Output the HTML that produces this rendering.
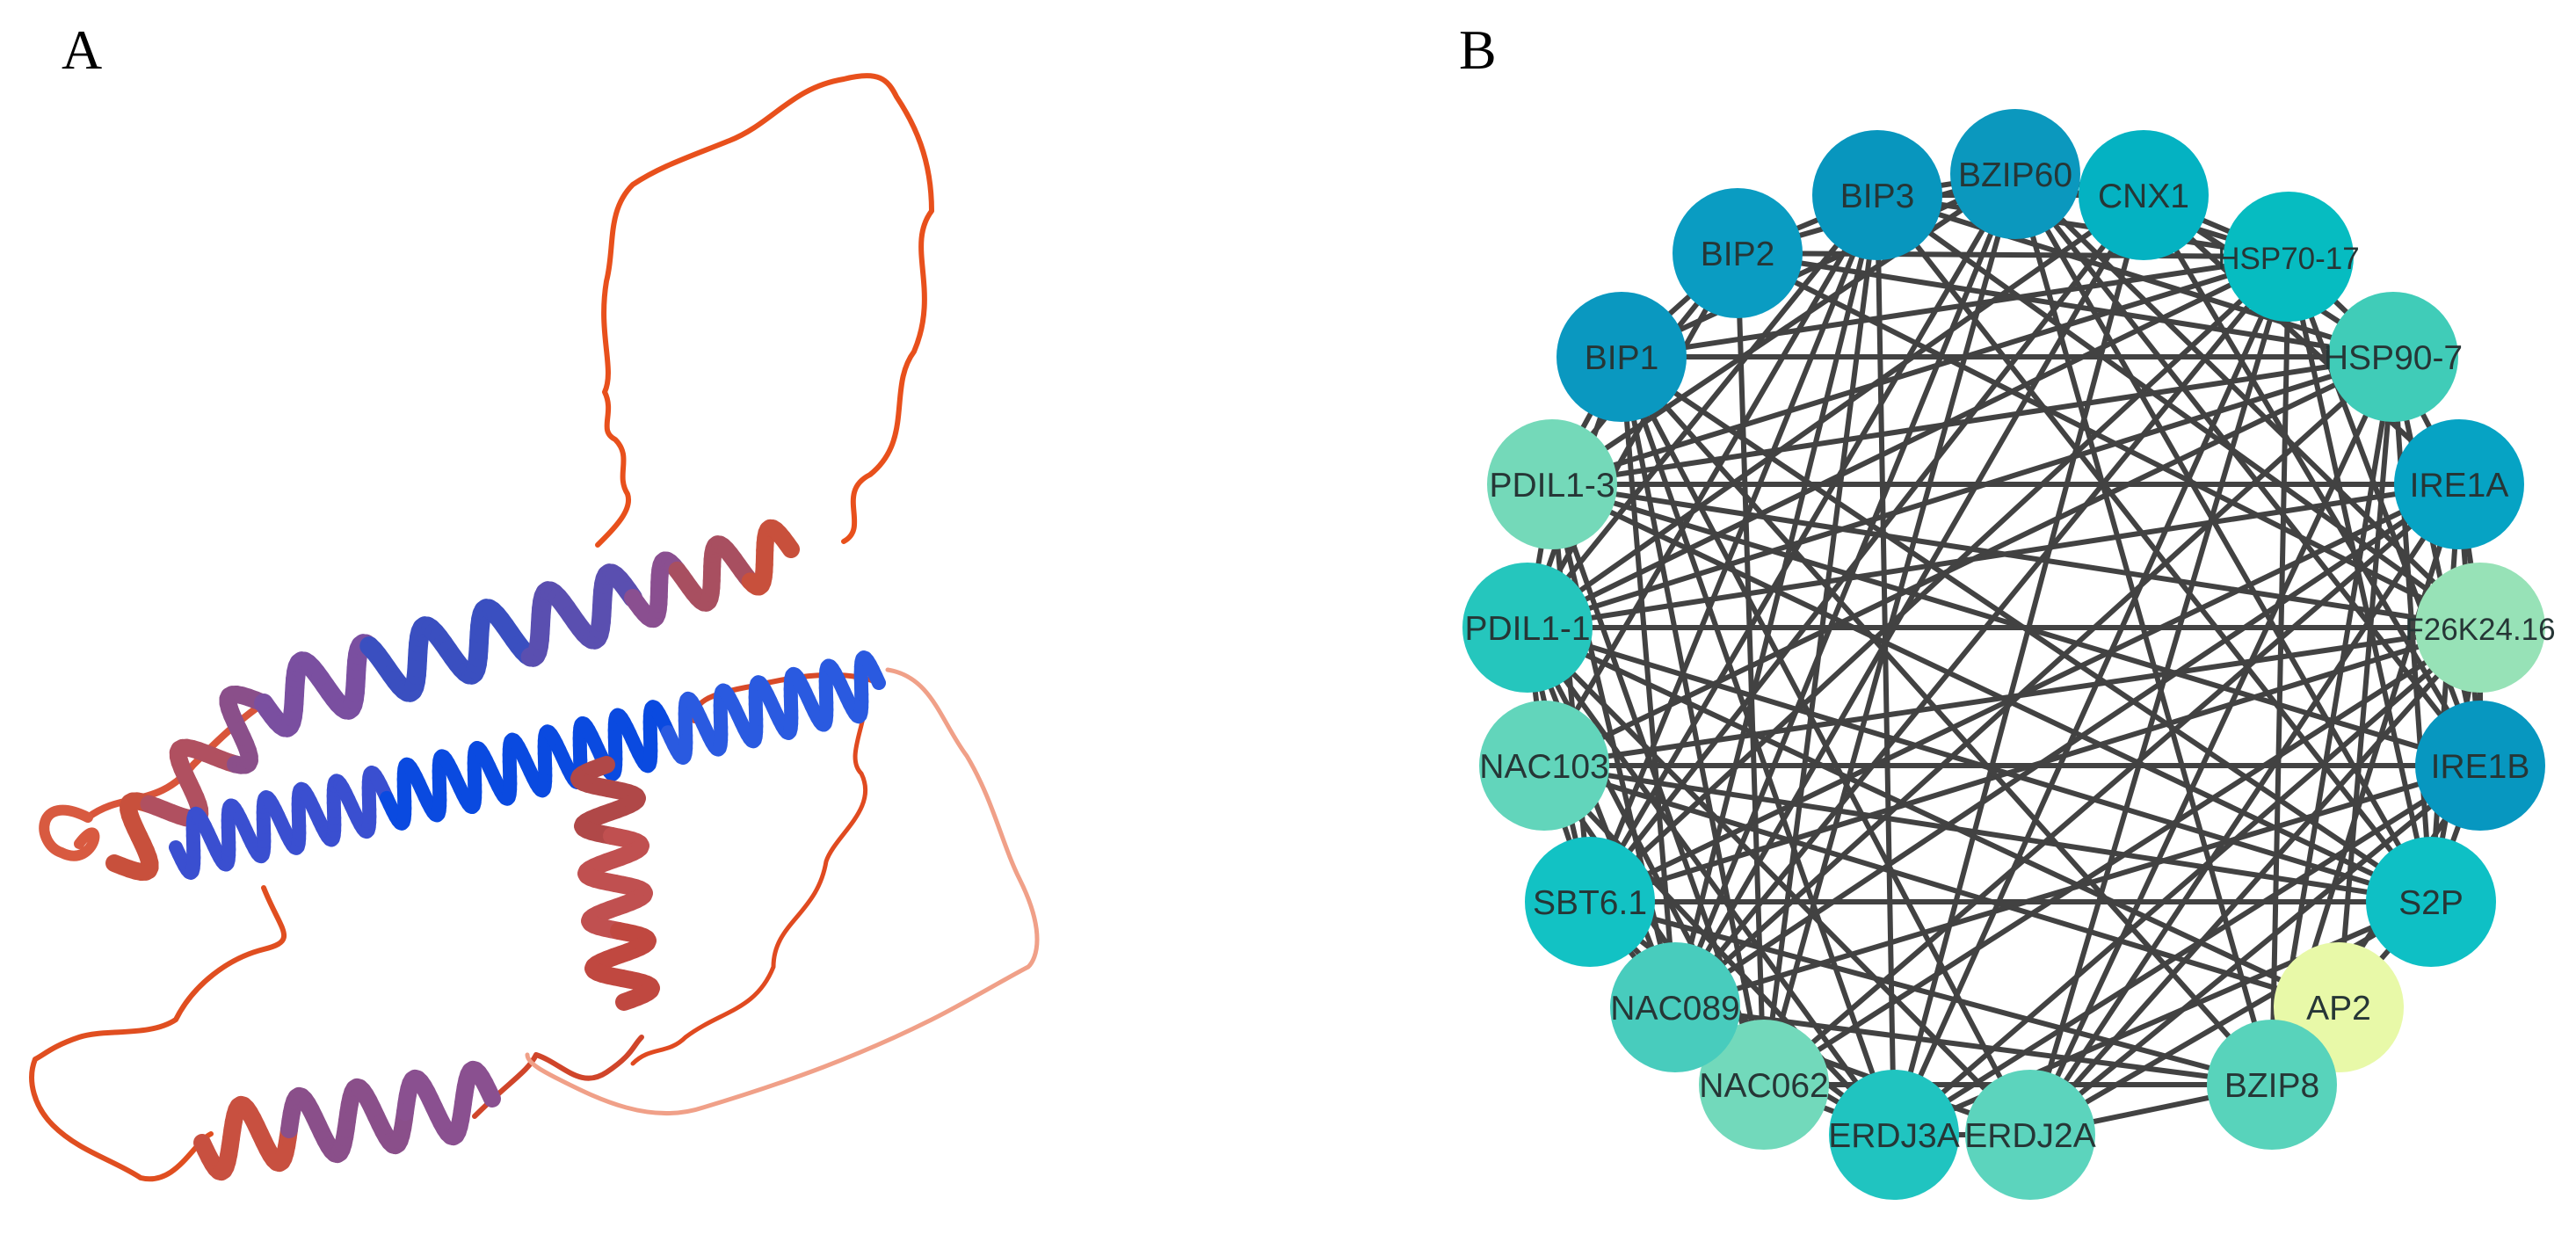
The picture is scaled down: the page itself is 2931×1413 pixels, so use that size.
<!DOCTYPE html>
<html><head><meta charset="utf-8"><style>
html,body{margin:0;padding:0;background:#fff;}
svg{display:block;}
</style></head><body>
<svg id="s" width="2931" height="1413" viewBox="0 0 2931 1413" xmlns="http://www.w3.org/2000/svg">
<rect width="2931" height="1413" fill="#fff"/>
<text x="70" y="78" font-family="Liberation Serif, serif" font-size="64" fill="#000">A</text>
<text x="1660" y="78" font-family="Liberation Serif, serif" font-size="64" fill="#000">B</text>
<g id="prot" fill="none" stroke-linecap="round" stroke-linejoin="round">
<path d="M960,616 C990,600 950,560 990,540 C1040,500 1010,440 1040,400 C1070,330 1030,280 1060,240 C1060,180 1040,140 1020,110 C1010,90 1000,80 960,90 C900,100 880,140 830,160 C780,180 750,190 720,210 C690,240 700,280 690,320 C680,380 700,420 688,446 C700,470 680,490 700,500 C720,520 700,540 714,562 C720,580 700,600 680,620" stroke="#e8501c" stroke-width="6"/>
<path d="M100,930 C140,900 180,920 220,870 C240,850 270,820 300,800" stroke="#d9553a" stroke-width="8"/>
<path d="M100,930 C40,900 40,960 70,970 C110,990 120,920 90,960" stroke="#d85a40" stroke-width="12"/>
<path d="M300,1010 C320,1060 340,1070 300,1080 C260,1090 220,1120 200,1160 C170,1180 120,1170 90,1180 C60,1190 50,1200 40,1205 C30,1230 40,1260 60,1280 C90,1310 130,1320 160,1340 C200,1350 220,1300 240,1290" stroke="#e04e20" stroke-width="6"/>
<path d="M540,1270 C580,1230 600,1220 610,1200 C640,1210 660,1240 690,1220 C720,1200 720,1190 730,1180" stroke="#d0452a" stroke-width="6"/>
<path d="M985,780 C990,820 960,860 980,880 C1000,920 950,950 940,980 C930,1040 880,1050 880,1100 C860,1150 820,1150 780,1180 C760,1200 740,1190 720,1210" stroke="#e04a20" stroke-width="5"/>
<path d="M1010,762 C1060,770 1070,820 1100,860 C1130,910 1140,960 1160,1000 C1190,1060 1180,1090 1170,1100 C1150,1110 1100,1140 1060,1160 C980,1200 900,1230 800,1260 C740,1280 680,1250 640,1230 C620,1220 600,1210 600,1200" stroke="#f0a088" stroke-width="5"/>
<path d="M1000,777 C960,760 900,770 860,780 C800,790 790,800 790,820" stroke="#d84a28" stroke-width="6"/>
</g>
<g id="helices"></g>
<g id="edges" stroke="#424242" stroke-width="6"></g>
<g id="nodes"></g>
</svg>
<script>
var NS="http://www.w3.org/2000/svg";
function el(t,a,p){var e=document.createElementNS(NS,t);for(var k in a)e.setAttribute(k,a[k]);p.appendChild(e);return e;}
var H=document.getElementById('helices');
function helix(x1,y1,x2,y2,turns,amp,w,c1,c2,c3){
 var dx=x2-x1,dy=y2-y1,L=Math.hypot(dx,dy),nx=-dy/L,ny=dx/L,N=turns*24;
 for(var i=0;i<N;i++){
  var t=i/N,t2=(i+1)/N;
  var a=Math.sin(t*turns*2*Math.PI)*amp,b=Math.sin(t2*turns*2*Math.PI)*amp;
  var col=t<0.3?c1:(t<0.7?c2:c3);
  el('line',{x1:x1+dx*t+nx*a,y1:y1+dy*t+ny*a,x2:x1+dx*t2+nx*b,y2:y1+dy*t2+ny*b,stroke:col,'stroke-width':w,'stroke-linecap':'round'},H);
 }
}
helix(130,982,300,800,3,34,20,"#c8503c","#b05060","#8a4f8a");
helix(300,800,720,680,6,34,22,"#7a4fa0","#3a4fc0","#5a4fb0");
helix(720,680,900,625,3,30,20,"#8a4f90","#a84f60","#c8503c");
helix(200,964,1000,777,20,32,16,"#3a4fd0","#0a4ae0","#2a5ae0");
helix(690,870,710,1140,5,32,20,"#b04848","#c05050","#c04840");
helix(230,1300,560,1250,5,36,20,"#c85040","#8a4f8a","#8a5090");
var nodes=[
["BZIP60",2293,198,"#0b98be"],["CNX1",2439,222,"#04b2c2"],["HSP70-17",2604,292,"#06bcc1"],["HSP90-7",2723,406,"#40ccb8"],
["IRE1A",2798,551,"#06a3c4"],["F26K24.16",2822,714,"#97e2b7"],["IRE1B",2822,871,"#0797c0"],["S2P",2766,1026,"#0ec0c5"],
["AP2",2661,1146,"#e8f9a8"],["BZIP8",2585,1234,"#58d3bb"],["ERDJ2A",2310,1291,"#5cd4bd"],["ERDJ3A",2155,1291,"#20c4c0"],
["NAC062",2007,1234,"#72d9bb"],["NAC089",1906,1146,"#48ccbd"],["SBT6.1",1809,1026,"#12c2c4"],["NAC103",1757,871,"#62d5bb"],
["PDIL1-1",1738,714,"#25c6bd"],["PDIL1-3",1766,551,"#74d9b9"],["BIP1",1845,406,"#0a98c0"],["BIP2",1977,288,"#0a9cc2"],["BIP3",2136,222,"#0896be"]];
var E=document.getElementById('edges'),Nd=document.getElementById('nodes');
var seed=12345;function rnd(){seed=(seed*16807)%2147483647;return seed/2147483647;}
var n=nodes.length;
for(var i=0;i<n;i++)for(var j=i+1;j<n;j++){
 var p=0.62; if(nodes[i][0]=="AP2"||nodes[j][0]=="AP2")p=0.2;
 if(j==i+1||(i==0&&j==n-1)||rnd()<p) el('line',{x1:nodes[i][1],y1:nodes[i][2],x2:nodes[j][1],y2:nodes[j][2]},E);
}
nodes.forEach(function(d){
 el('circle',{cx:d[1],cy:d[2],r:74,fill:d[3]},Nd);
 var t=el('text',{x:d[1],y:d[2]+14,'text-anchor':'middle','font-family':'Liberation Sans, sans-serif','font-size':d[0].length>7?35:39,fill:'#263636'},Nd);
 t.textContent=d[0];
});
</script>
</body></html>
